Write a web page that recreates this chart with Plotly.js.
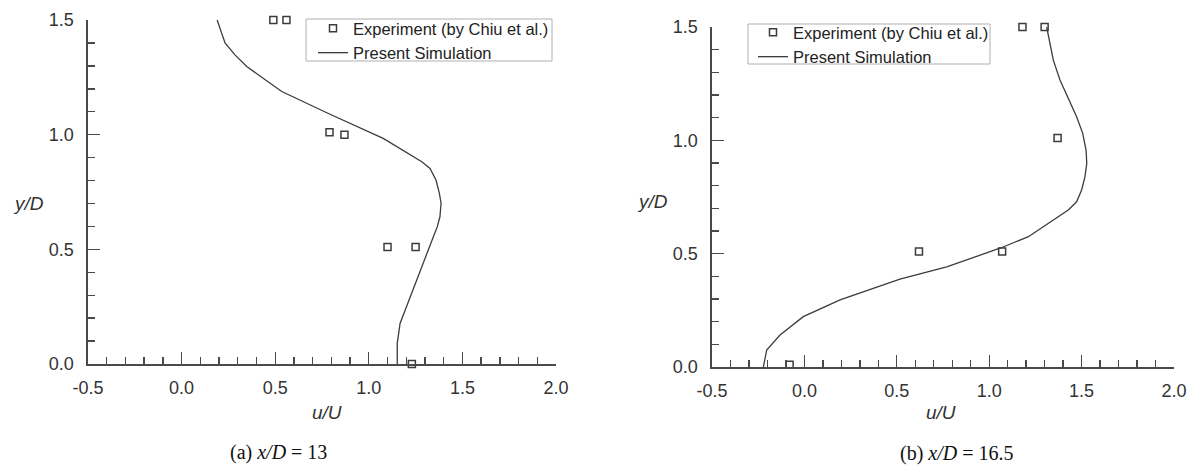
<!DOCTYPE html>
<html>
<head>
<meta charset="utf-8">
<script src="https://cdn.plot.ly/plotly-3.0.1.min.js"></script>
<style>
  html, body { margin: 0; padding: 0; background: #fff; }
  #chart { width: 1195px; height: 467px; }
</style>
</head>
<body>
<div id="chart"></div>
<script>
// ---------- data ----------
// (a) x/D = 13
const expA_u = [0.49, 0.56, 0.79, 0.87, 1.10, 1.25, 1.23];
const expA_y = [1.50, 1.50, 1.01, 1.00, 0.51, 0.51, 0.00];
const simA_u = [0.19, 0.232, 0.285, 0.348, 0.535, 0.79, 1.077, 1.283, 1.327, 1.359, 1.377, 1.386, 1.380, 1.366, 1.345, 1.318, 1.283, 1.247, 1.215, 1.19, 1.167, 1.152, 1.152];
const simA_y = [1.50, 1.40, 1.348, 1.297, 1.188, 1.09, 0.984, 0.882, 0.853, 0.802, 0.744, 0.701, 0.642, 0.599, 0.555, 0.497, 0.424, 0.352, 0.279, 0.23, 0.177, 0.09, 0.00];

// (b) x/D = 16.5
const expB_u = [1.18, 1.30, 1.37, 0.62, 1.07, -0.08];
const expB_y = [1.50, 1.50, 1.01, 0.51, 0.51, 0.01];
const simB_u = [1.311, 1.329, 1.347, 1.383, 1.428, 1.473, 1.506, 1.524, 1.528, 1.518, 1.50, 1.473, 1.428, 1.212, 1.058, 0.77, 0.517, 0.193, -0.006, -0.132, -0.204, -0.222];
const simB_y = [1.50, 1.428, 1.354, 1.266, 1.185, 1.104, 1.031, 0.957, 0.899, 0.839, 0.781, 0.729, 0.693, 0.575, 0.524, 0.442, 0.388, 0.296, 0.222, 0.141, 0.075, 0.00];

// tick labels
const xTickVals = [-0.5, 0.0, 0.5, 1.0, 1.5, 2.0];
const xTickText = ['-0.5', '0.0', '0.5', '1.0', '1.5', '2.0'];
const yTickVals = [0.0, 0.5, 1.0, 1.5];
const yTickText = ['0.0', '0.5', '1.0', '1.5'];

const names = ['Experiment (by Chiu et al.)', 'Present Simulation'];
const captions = ['(a) <i>x/D</i> = 13', '(b) <i>x/D</i> = 16.5'];
const xTitle = '<i>u/U</i>';
const yTitle = '<i>y/D</i>';

// ---------- layout helpers ----------
const W = 1195, H = 467;
const px = x => x / W;
const py = y => (H - y) / H;

const lineCol = '#3c3c3c';
const axCol = '#4a4a4a';
const sans = 'Liberation Sans, Arial, sans-serif';
const serif = 'Liberation Serif, Times New Roman, serif';

function xAxis(domain, anchor) {
  return {
    domain: domain, anchor: anchor, range: [-0.5, 2.0],
    showline: true, linecolor: axCol, linewidth: 1.6,
    showgrid: false, zeroline: false, mirror: false,
    tickmode: 'array', tickvals: xTickVals, ticktext: xTickText,
    ticks: 'inside', ticklen: 12, tickwidth: 1.4, tickcolor: axCol,
    minor: { ticks: 'inside', ticklen: 7, tickwidth: 1.4, tickcolor: axCol, tickmode: 'linear', tick0: 0, dtick: 0.1 },
    tickfont: { family: sans, size: 18, color: '#333' },
    ticklabelstandoff: 7,
    fixedrange: true
  };
}
function yAxis(domain, anchor) {
  return {
    domain: domain, anchor: anchor, range: [0, 1.5],
    showline: true, linecolor: axCol, linewidth: 1.6,
    showgrid: false, zeroline: false, mirror: false,
    tickmode: 'array', tickvals: yTickVals, ticktext: yTickText,
    ticks: 'inside', ticklen: 12, tickwidth: 1.4, tickcolor: axCol,
    minor: { ticks: 'inside', ticklen: 7, tickwidth: 1.4, tickcolor: axCol, tickmode: 'linear', tick0: 0, dtick: 0.1 },
    tickfont: { family: sans, size: 18, color: '#333' },
    ticklabelstandoff: 9,
    fixedrange: true
  };
}

const markerStyle = { symbol: 'square-open', size: 7, color: lineCol, line: { width: 1.5, color: lineCol } };
const simLine = { color: lineCol, width: 1.3 };

const traces = [
  { x: expA_u, y: expA_y, xaxis: 'x', yaxis: 'y', mode: 'markers', name: names[0], marker: markerStyle, cliponaxis: false, legend: 'legend' },
  { x: simA_u, y: simA_y, xaxis: 'x', yaxis: 'y', mode: 'lines', name: names[1], line: simLine, legend: 'legend' },
  { x: expB_u, y: expB_y, xaxis: 'x2', yaxis: 'y2', mode: 'markers', name: names[0], marker: markerStyle, cliponaxis: false, legend: 'legend2' },
  { x: simB_u, y: simB_y, xaxis: 'x2', yaxis: 'y2', mode: 'lines', name: names[1], line: simLine, legend: 'legend2' }
];

const legendStyle = {
  xanchor: 'left', yanchor: 'top',
  bgcolor: 'rgba(0,0,0,0)', bordercolor: 'rgba(0,0,0,0)', borderwidth: 1,
  font: { family: sans, size: 16.5, color: '#222' },
  tracegroupgap: 0, itemclick: false, itemdoubleclick: false
};

const annFont = { family: sans, size: 19, color: '#333' };
const capFont = { family: serif, size: 20, color: '#111' };

// legend frames (drawn as shapes so the box hugs the entries as in the reference)
const frame = (x0, y0, x1, y1) => ({
  type: 'rect', xref: 'paper', yref: 'paper', x0: px(x0), x1: px(x1), y0: py(y1), y1: py(y0),
  line: { color: '#b0b0b0', width: 1 }, fillcolor: 'rgba(0,0,0,0)', layer: 'below'
});

const layout = {
  width: W, height: H,
  margin: { l: 0, r: 0, t: 0, b: 0 },
  paper_bgcolor: '#fff', plot_bgcolor: '#fff',
  showlegend: true,
  xaxis: xAxis([px(88), px(556)], 'y'),
  yaxis: yAxis([py(364), py(20)], 'x'),
  xaxis2: xAxis([px(712), px(1174)], 'y2'),
  yaxis2: yAxis([py(367), py(27)], 'x2'),
  legend: Object.assign({}, legendStyle, { x: px(312), y: py(10) }),
  legend2: Object.assign({}, legendStyle, { x: px(752), y: py(14) }),
  shapes: [frame(306, 19, 552, 61), frame(748, 24, 990, 64)],
  annotations: [
    { xref: 'paper', yref: 'paper', x: px(28), y: py(204), text: yTitle, showarrow: false, font: annFont, xanchor: 'center', yanchor: 'middle' },
    { xref: 'paper', yref: 'paper', x: px(652), y: py(201), text: yTitle, showarrow: false, font: annFont, xanchor: 'center', yanchor: 'middle' },
    { xref: 'paper', yref: 'paper', x: px(327), y: py(412), text: xTitle, showarrow: false, font: annFont, xanchor: 'center', yanchor: 'middle' },
    { xref: 'paper', yref: 'paper', x: px(941), y: py(412), text: xTitle, showarrow: false, font: annFont, xanchor: 'center', yanchor: 'middle' },
    { xref: 'paper', yref: 'paper', x: px(278), y: py(452), text: captions[0], showarrow: false, font: capFont, xanchor: 'center', yanchor: 'middle' },
    { xref: 'paper', yref: 'paper', x: px(957), y: py(453), text: captions[1], showarrow: false, font: capFont, xanchor: 'center', yanchor: 'middle' }
  ]
};

Plotly.newPlot('chart', traces, layout, { displayModeBar: false, staticPlot: true });
</script>
</body>
</html>
